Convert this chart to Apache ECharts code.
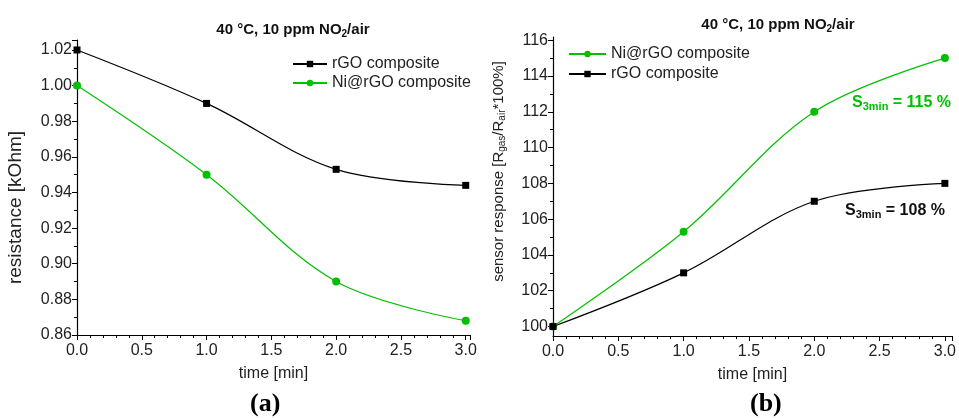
<!DOCTYPE html>
<html>
<head>
<meta charset="utf-8">
<script src="https://cdn.jsdelivr.net/npm/echarts@6/dist/echarts.min.js"></script>
<style>
html,body{margin:0;padding:0;background:#fff;}
#c{width:959px;height:418px;}
</style>
</head>
<body>
<div id="c"></div>
<script>
// ---- data ----
var timeMin = [0, 1, 2, 3];
var resRGO = [1.020, 0.990, 0.953, 0.944];
var resNi = [1.000, 0.950, 0.890, 0.868];
var respNi = [100, 105.3, 112, 115];
var respRGO = [100, 103, 107, 108];
var respTicks = [100, 102, 104, 106, 108, 110, 112, 114, 116];
var respMinorTicks = [101, 103, 105, 107, 109, 111, 113, 115];
var nameRGO = 'rGO composite';
var nameNi = 'Ni@rGO composite';
var titleText = '40 °C, 10 ppm NO{sub|2}/air';
var annotNi = 'S{sub|3min} = 115 %';
var annotRGO = 'S{sub|3min} = 108 %';

function pairs(xs, ys){ return xs.map(function(x,i){ return [x, ys[i]]; }); }

var GREEN = '#00c000';
var FONT = 'Liberation Sans, Arial, sans-serif';
var TXT = '#222';

var chart = echarts.init(document.getElementById('c'));

function xAxisCfg(gi, max){
  return {
    type:'value', gridIndex:gi, min:0, max:max, interval:0.5,
    name:'time [min]', nameLocation:'middle', nameGap:31,
    nameTextStyle:{fontFamily:FONT, fontSize:16, color:TXT},
    axisLine:{show:true, onZero:false, lineStyle:{color:'#000', width:1.2}},
    axisTick:{show:true, length:5, inside:false, lineStyle:{color:'#000'}},
    minorTick:{show:true, splitNumber:5, length:3, lineStyle:{color:'#000'}},
    splitLine:{show:false},
    axisLabel:{fontFamily:FONT, fontSize:16, color:TXT, margin:8,
      formatter:function(v){ return v.toFixed(1); }, showMaxLabel:false}
  };
}

var titleStyle = {fontFamily:FONT, fontSize:15, fontWeight:'bold', color:'#111',
  rich:{sub:{fontSize:10, fontWeight:'bold', padding:[8,0,0,0], fontFamily:FONT, color:'#111'}}};

var option = {
  animation:false,
  backgroundColor:'#fff',
  title:[
    {text:titleText, left:288, top:16, textAlign:'center', textStyle:titleStyle},
    {text:titleText, left:773, top:11, textAlign:'center', textStyle:titleStyle}
  ],
  legend:[
    {data:[nameRGO, nameNi], left:287, top:51, orient:'vertical', itemGap:3,
     itemWidth:34, itemHeight:8, textStyle:{fontFamily:FONT, fontSize:16, color:TXT}},
    {data:[nameNi, nameRGO], left:563, top:41, orient:'vertical', itemGap:4,
     itemWidth:37, itemHeight:8, textStyle:{fontFamily:FONT, fontSize:16, color:TXT}}
  ],
  grid:[
    {left:77, top:40, width:393, height:295},
    {left:553, top:37, width:400, height:299}
  ],
  xAxis:[ xAxisCfg(0, 3.033), xAxisCfg(1, 3.055) ],
  yAxis:[
    {type:'value', gridIndex:0, min:0.86, max:1.0256, interval:0.02,
     name:'resistance [kOhm]', nameLocation:'middle', nameGap:52,
     nameTextStyle:{fontFamily:FONT, fontSize:19, color:TXT, padding:[0,40,0,0]},
     axisLine:{show:true, lineStyle:{color:'#000', width:1.2}},
     axisTick:{show:true, length:5, lineStyle:{color:'#000'}},
     minorTick:{show:true, splitNumber:2, length:3, lineStyle:{color:'#000'}},
     splitLine:{show:false},
     axisLabel:{fontFamily:FONT, fontSize:16, color:TXT, margin:5,
       formatter:function(v){ return v.toFixed(2); }, showMaxLabel:false}},
    {type:'value', gridIndex:1, min:99.47, max:116.18, position:'left',
     name:'sensor response [R{sub|gas}/R{sub|air}*100%]', nameLocation:'middle', nameGap:46,
     nameTextStyle:{fontFamily:FONT, fontSize:15, color:TXT, padding:[0,0,0,30],
       rich:{sub:{fontSize:10, padding:[7,0,0,0], fontFamily:FONT, color:TXT}}},
     axisLine:{show:true, lineStyle:{color:'#000', width:1.2}},
     axisTick:{show:true, length:5, customValues:respTicks, lineStyle:{color:'#000'}},
     splitLine:{show:false},
     axisLabel:{fontFamily:FONT, fontSize:16, color:TXT, margin:5, customValues:respTicks}},
    {type:'value', gridIndex:1, min:99.47, max:116.18, position:'left', offset:0,
     axisLine:{show:false},
     axisTick:{show:true, length:3, customValues:respMinorTicks, lineStyle:{color:'#000'}},
     splitLine:{show:false},
     axisLabel:{show:false}}
  ],
  series:[
    {name:nameRGO, type:'line', xAxisIndex:0, yAxisIndex:0, data:pairs(timeMin, resRGO),
     smooth:0.35, symbol:'rect', symbolSize:7, itemStyle:{color:'#000'}, lineStyle:{color:'#000', width:1.2}},
    {name:nameNi, type:'line', xAxisIndex:0, yAxisIndex:0, data:pairs(timeMin, resNi),
     smooth:0.35, symbol:'circle', symbolSize:8, itemStyle:{color:GREEN}, lineStyle:{color:GREEN, width:1.2}},
    {name:nameNi, type:'line', xAxisIndex:1, yAxisIndex:1, data:pairs(timeMin, respNi),
     smooth:0.35, symbol:'circle', symbolSize:8, itemStyle:{color:GREEN}, lineStyle:{color:GREEN, width:1.2}},
    {name:nameRGO, type:'line', xAxisIndex:1, yAxisIndex:1, data:pairs(timeMin, respRGO),
     smooth:0.35, symbol:'rect', symbolSize:7, itemStyle:{color:'#000'}, lineStyle:{color:'#000', width:1.2}}
  ],
  graphic:[
    {type:'text', left:852, top:95, style:{text:annotNi, fill:GREEN,
      font:'bold 16px '+FONT, rich:{sub:{fill:GREEN, font:'bold 11px '+FONT, padding:[8,0,0,0]}}}},
    {type:'text', left:845, top:203, style:{text:annotRGO, fill:'#111',
      font:'bold 16px '+FONT, rich:{sub:{fill:'#111', font:'bold 11px '+FONT, padding:[8,0,0,0]}}}},
    {type:'text', left:250, top:391, style:{text:'(a)', fill:'#000',
      font:'bold 26px "Liberation Serif", "DejaVu Serif", serif'}},
    {type:'text', left:750, top:391, style:{text:'(b)', fill:'#000',
      font:'bold 26px "Liberation Serif", "DejaVu Serif", serif'}}
  ]
};
chart.setOption(option);
</script>
</body>
</html>
